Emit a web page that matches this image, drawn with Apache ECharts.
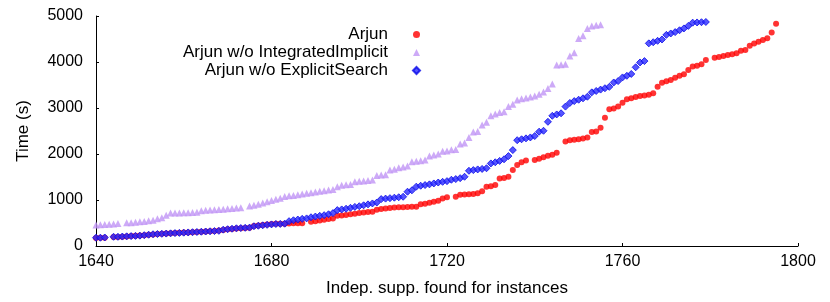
<!DOCTYPE html>
<html>
<head>
<meta charset="utf-8">
<script src="https://cdn.jsdelivr.net/npm/echarts@6/dist/echarts.min.js"></script>
<style>html,body{margin:0;padding:0;background:#fff}#c{width:830px;height:302px}</style>
</head>
<body>
<div id="c"></div>
<script>
// x values start at 1640 and increase by 1 per entry; null = no point
const xStart = 1640;
const seriesNames = ['Arjun', 'Arjun w/o IntegratedImplicit', 'Arjun w/o ExplicitSearch'];
const xTicks = [1640, 1680, 1720, 1760, 1800];
const yTicks = [0, 1000, 2000, 3000, 4000, 5000];

const arjun = [175,178,182,null,195,198,203,208,218,222,228,235,243,252,262,266,270,276,280,286,
  292,296,300,306,312,316,320,326,335,350,362,372,383,388,392,398,435,445,455,465,
  480,482,485,485,490,492,494,496,null,525,540,555,570,585,600,655,665,675,690,700,
  715,730,740,745,790,805,815,825,835,840,845,850,852,855,905,920,940,960,985,1030,
  1060,null,1072,1115,1120,1125,1130,1145,1190,1290,1300,1325,1470,1480,1505,1650,1760,1820,1860,null,
  1870,1895,1930,1960,1985,2025,null,2270,2300,2310,2320,2335,2360,2480,2490,2570,2790,2975,2990,3030,
  3115,3190,3210,3240,3260,3270,3290,3320,3460,3550,3580,3610,3660,3700,3735,3825,3900,3920,3950,4045,
  null,4095,4110,4130,4150,4170,4190,4245,4260,4355,4400,4440,4480,4515,4640,4830];

const noIntegrated = [455,462,468,474,480,490,null,505,508,515,525,535,548,562,590,615,670,720,720,720,
  722,725,728,735,765,775,780,790,795,800,810,815,825,832,null,870,885,905,935,960,
  990,1015,1040,1075,1090,1100,1115,1130,1145,1160,1175,1190,1200,1215,1230,1290,1320,1330,1335,1395,
  1405,1415,1425,1435,1530,1545,1550,1650,1670,1700,1720,1740,1830,1845,1855,1870,1955,1980,2000,2060,
  2065,2095,2100,2220,2240,2360,2480,2490,2630,2690,2830,2870,2900,2920,3030,3080,3175,3200,3220,3240,
  3260,3300,3350,3425,3520,3935,3940,3950,4130,4200,4510,4570,4730,4780,4800,4810];

const noExplicit = [180,180,185,null,200,200,205,210,215,220,225,235,245,255,260,265,270,275,280,285,
  290,295,300,305,310,315,320,325,330,355,365,375,385,390,395,400,430,440,450,460,
  470,478,480,485,540,560,575,590,600,625,640,655,670,690,715,780,795,810,830,850,
  865,885,905,925,945,1020,1030,1040,1050,1060,1070,1180,1210,1290,1310,1325,1340,1360,1380,1395,
  1410,1440,1455,1475,1505,1635,1650,1665,1675,1690,1795,1820,1850,1885,1955,2085,2300,2320,2340,2360,
  2390,2485,2505,2700,2830,2860,2885,3030,3110,3150,3180,3210,3245,3340,3370,3400,3430,3460,3555,3585,
  3665,3700,3740,3885,3990,4020,4405,4430,4460,4490,4590,4620,4650,4690,4730,4785,4855,4860,4865,4870];

function pairs(arr) {
  const out = [];
  arr.forEach((v, i) => { if (v !== null) out.push([xStart + i, v]); });
  return out;
}

const font = 'Liberation Sans, Arial, Helvetica, sans-serif';
const chart = echarts.init(document.getElementById('c'), null, {renderer: 'canvas'});
chart.setOption({
  animation: false,
  backgroundColor: '#fff',
  grid: {left: 96, right: 32, top: 16, bottom: 56, containLabel: false},
  legend: {
    orient: 'vertical', right: 404, top: 21, align: 'right',
    itemWidth: 7, itemHeight: 7, itemGap: 1,
    textStyle: {fontFamily: font, fontSize: 17, color: '#000', padding: [0, 20, 0, 0]},
    data: [
      {name: seriesNames[0], icon: 'circle'},
      {name: seriesNames[1], icon: 'triangle'},
      {name: seriesNames[2], icon: 'diamond'}
    ]
  },
  xAxis: {
    type: 'value', min: xTicks[0], max: xTicks[xTicks.length - 1], interval: 40,
    name: 'Indep. supp. found for instances', nameLocation: 'middle', nameGap: 34,
    nameTextStyle: {fontFamily: font, fontSize: 17, color: '#000'},
    axisLine: {lineStyle: {color: '#000', width: 1}},
    axisTick: {inside: true, length: 3, lineStyle: {color: '#000'}},
    axisLabel: {fontFamily: font, fontSize: 16, color: '#000', margin: 8, formatter: v => String(v)},
    splitLine: {show: false}
  },
  yAxis: {
    type: 'value', min: yTicks[0], max: yTicks[yTicks.length - 1], interval: 1000,
    name: 'Time (s)', nameLocation: 'middle', nameGap: 64,
    nameTextStyle: {fontFamily: font, fontSize: 17, color: '#000'},
    axisLine: {show: true, lineStyle: {color: '#000', width: 1}},
    axisTick: {show: true, inside: true, length: 3, lineStyle: {color: '#000'}},
    axisLabel: {fontFamily: font, fontSize: 16, color: '#000', margin: 13, formatter: v => String(v)},
    splitLine: {show: false}
  },
  series: [
    {name: seriesNames[0], type: 'scatter', symbol: 'circle', symbolSize: 6,
     itemStyle: {color: '#ff0000'}, data: pairs(arjun)},
    {name: seriesNames[1], type: 'scatter', symbol: 'triangle', symbolSize: 7,
     itemStyle: {color: '#c095f5'}, data: pairs(noIntegrated)},
    {name: seriesNames[2], type: 'scatter', symbol: 'diamond', symbolSize: 7,
     itemStyle: {color: '#2a2aff', borderColor: '#0a0ae8', borderWidth: 1}, data: pairs(noExplicit)}
  ]
});
</script>
</body>
</html>
